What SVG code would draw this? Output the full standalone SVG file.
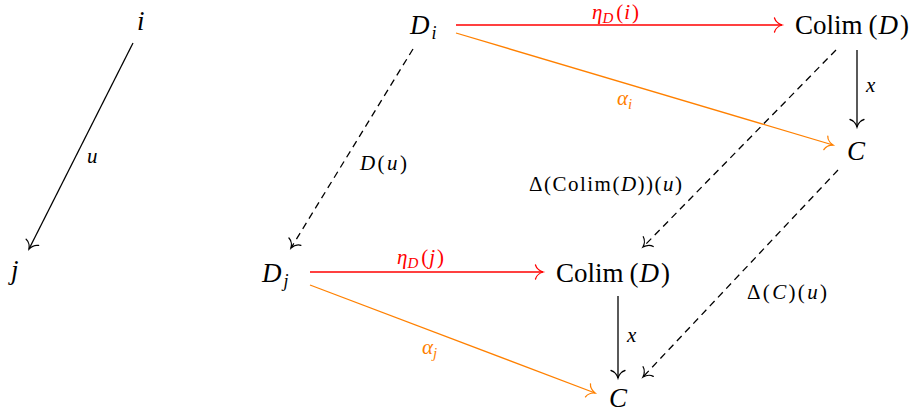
<svg xmlns="http://www.w3.org/2000/svg" width="921" height="412" viewBox="0 0 921 412">
<style>
.t{font-family:"Liberation Serif","Tinos","DejaVu Serif","Noto Serif",serif;fill:#000}
.m{font-style:italic}
.big{font-size:27px}
.sm{font-size:21px}
.sub{font-size:18px}
.ln{fill:none;stroke-width:1.3}
.k{stroke:#000}
.r{stroke:#ff0000}
.o{stroke:#ff8000}
.d{stroke-dasharray:7 5}
.ah{fill:none;stroke-width:1.3;stroke-dasharray:none;stroke-linecap:round}
</style>
<defs>
<marker id="ak" viewBox="-9 -8 10 16" refX="0" refY="0" markerWidth="10" markerHeight="16" markerUnits="userSpaceOnUse" orient="auto" overflow="visible">
<path class="ah" stroke="#000" d="M -7.5,-7 C -6.5,-3 -2,-0.6 0,0 C -2,0.6 -6.5,3 -7.5,7"/>
</marker>
<marker id="ar" viewBox="-9 -8 10 16" refX="0" refY="0" markerWidth="10" markerHeight="16" markerUnits="userSpaceOnUse" orient="auto" overflow="visible">
<path class="ah" stroke="#ff0000" d="M -7.5,-7 C -6.5,-3 -2,-0.6 0,0 C -2,0.6 -6.5,3 -7.5,7"/>
</marker>
<marker id="ao" viewBox="-9 -8 10 16" refX="0" refY="0" markerWidth="10" markerHeight="16" markerUnits="userSpaceOnUse" orient="auto" overflow="visible">
<path class="ah" stroke="#ff8000" d="M -7.5,-7 C -6.5,-3 -2,-0.6 0,0 C -2,0.6 -6.5,3 -7.5,7"/>
</marker>
</defs>

<g id="connectors">
<line class="ln k" x1="133" y1="43" x2="29" y2="249" marker-end="url(#ak)"/>
<line class="ln r" x1="456" y1="25" x2="782" y2="25" marker-end="url(#ar)"/>
<line class="ln o" x1="456" y1="33" x2="833" y2="145" marker-end="url(#ao)"/>
<line class="ln k d" x1="413" y1="49" x2="291" y2="248" marker-end="url(#ak)"/>
<line class="ln k d" x1="836" y1="50" x2="643" y2="247" marker-end="url(#ak)"/>
<line class="ln k" x1="857" y1="50" x2="857" y2="127" marker-end="url(#ak)"/>
<line class="ln k d" x1="838" y1="170" x2="643" y2="377" marker-end="url(#ak)"/>
<line class="ln r" x1="310" y1="272" x2="543" y2="272" marker-end="url(#ar)"/>
<line class="ln o" x1="310" y1="285" x2="595" y2="393" marker-end="url(#ao)"/>
<line class="ln k" x1="618" y1="296" x2="618" y2="378" marker-end="url(#ak)"/>
</g>

<g id="labels">
<text class="t m sm" x="87" y="163">u</text>
<text class="t sm" x="592" y="19" style="fill:#ff0000"><tspan class="m">η</tspan><tspan class="m" font-size="15" dy="4">D</tspan><tspan dy="-4" dx="3">(</tspan><tspan class="m" dx="1">i</tspan><tspan dx="2">)</tspan></text>
<text class="t m sm" x="617" y="105" style="fill:#ff8000">α<tspan font-size="15" dy="4">i</tspan></text>
<text class="t m sm" x="866" y="92">x</text>
<text class="t sm" x="360" y="170" textLength="47"><tspan class="m">D</tspan>(<tspan class="m">u</tspan>)</text>
<text class="t sm" x="529" y="191" textLength="153">Δ(Colim(<tspan class="m">D</tspan>))(<tspan class="m">u</tspan>)</text>
<text class="t sm" x="747" y="299" textLength="80">Δ(<tspan class="m">C</tspan>)(<tspan class="m">u</tspan>)</text>
<text class="t sm" x="397" y="264" style="fill:#ff0000"><tspan class="m">η</tspan><tspan class="m" font-size="15" dy="4">D</tspan><tspan dy="-4" dx="3">(</tspan><tspan class="m" dx="1">j</tspan><tspan dx="2">)</tspan></text>
<text class="t m sm" x="422" y="354" style="fill:#ff8000">α<tspan font-size="15" dy="4">j</tspan></text>
<text class="t m sm" x="627" y="342">x</text>
</g>

<g id="node-i"><text class="t m big" x="137" y="30">i</text></g>
<g id="node-j"><text class="t m big" x="11" y="279">j</text></g>
<g id="node-Di"><text class="t m big" x="410" y="34">D<tspan class="sub" dy="5" dx="2">i</tspan></text></g>
<g id="node-colim-top"><text class="t big" x="795" y="34">Colim<tspan dx="6">(</tspan><tspan class="m" dx="1">D</tspan><tspan dx="2">)</tspan></text></g>
<g id="node-C-top"><text class="t m big" x="847" y="160">C</text></g>
<g id="node-Dj"><text class="t m big" x="262" y="282">D<tspan class="sub" dy="5" dx="2">j</tspan></text></g>
<g id="node-colim-bottom"><text class="t big" x="556" y="282">Colim<tspan dx="6">(</tspan><tspan class="m" dx="1">D</tspan><tspan dx="2">)</tspan></text></g>
<g id="node-C-bottom"><text class="t m big" x="609" y="407">C</text></g>
</svg>
